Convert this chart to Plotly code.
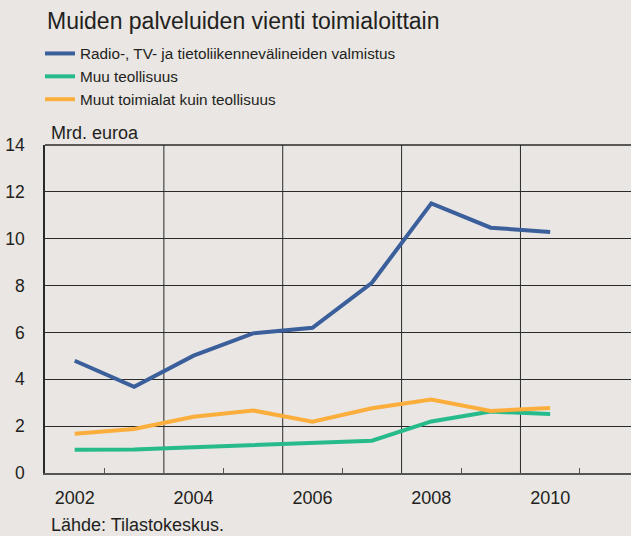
import plotly.graph_objects as go

years = [2002, 2003, 2004, 2005, 2006, 2007, 2008, 2009, 2010]
radio_tv = [4.79, 3.68, 5.01, 5.96, 6.2, 8.12, 11.51, 10.47, 10.29]
muu_teollisuus = [0.99, 1.0, 1.1, 1.18, 1.29, 1.38, 2.2, 2.62, 2.52]
muut_toimialat = [1.68, 1.88, 2.4, 2.67, 2.19, 2.76, 3.14, 2.65, 2.77]

series_names = [
    "Radio-, TV- ja tietoliikennevälineiden valmistus",
    "Muu teollisuus",
    "Muut toimialat kuin teollisuus",
]
colors = ["#3a5f9b", "#27bb8c", "#fbae3c"]

x_labels = ["2002", "2004", "2006", "2008", "2010"]
x_label_vals = [2002, 2004, 2006, 2008, 2010]
grid_x = [2003.5, 2005.5, 2007.5, 2009.5]
minor_x = [2002.5, 2004.5, 2006.5, 2008.5, 2010.5]

FONT = "Liberation Sans, Arial, sans-serif"
TXT = "#231f20"
BG = "#e9e6e3"
GRID = "#2a2a2a"

fig = go.Figure()
for name, vals, c in zip(series_names, [radio_tv, muu_teollisuus, muut_toimialat], colors):
    fig.add_trace(go.Scatter(x=years, y=vals, name=name, mode="lines",
                             line=dict(color=c, width=4)))

for gx in grid_x:
    fig.add_shape(type="line", xref="x", yref="paper", x0=gx, x1=gx, y0=0, y1=1,
                  line=dict(color=GRID, width=1), layer="below")

fig.update_layout(
    width=631, height=536,
    paper_bgcolor=BG, plot_bgcolor=BG,
    margin=dict(l=45, r=0, t=145, b=63, autoexpand=False),
    font=dict(family=FONT, color=TXT, size=18),
    title=dict(text="Muiden palveluiden vienti toimialoittain", x=0, xref="paper",
               xanchor="left", y=1 - 21 / 536, yref="container", yanchor="middle",
               font=dict(size=23, family=FONT, color=TXT), pad=dict(l=2)),
    showlegend=True,
    legend=dict(x=-0.0085, xref="paper", y=1 - 37 / 536, yref="container", yanchor="top",
                xanchor="left", bgcolor="rgba(0,0,0,0)", font=dict(size=15.3),
                tracegroupgap=0, traceorder="normal"),
    xaxis=dict(range=[2001.5, 2011.36], tickvals=x_label_vals, ticktext=x_labels,
               ticks="", showgrid=False, zeroline=False, automargin=False,
               showline=True, linecolor="#555555", linewidth=2, mirror=False,
               tickfont=dict(size=18), ticklabelstandoff=7,
               minor=dict(tickvals=minor_x, ticks="inside", ticklen=5,
                          tickcolor="#555555", tickwidth=1, showgrid=False)),
    yaxis=dict(range=[0, 14], dtick=2, tick0=0, showgrid=True, gridcolor=GRID,
               gridwidth=1, zeroline=False, showline=True, linecolor=GRID,
               linewidth=1.5, ticks="", tickfont=dict(size=17.5), automargin=False,
               ticklabelstandoff=15),
    annotations=[
        dict(text="Mrd. euroa", xref="paper", yref="paper", x=0.006, y=1.0,
             xanchor="left", yanchor="bottom", showarrow=False, yshift=0,
             font=dict(size=18, family=FONT, color=TXT)),
        dict(text="Lähde: Tilastokeskus.", xref="paper", yref="paper", x=0.006, y=0,
             xanchor="left", yanchor="middle", yshift=-52, showarrow=False,
             font=dict(size=18, family=FONT, color=TXT)),
    ],
)
fig.add_shape(type="line", xref="paper", yref="paper", x0=0, x1=1, y0=1, y1=1,
              line=dict(color=GRID, width=1.5))

fig.write_html(
    "out.html",
    config={"displayModeBar": False},
    post_script="document.body.style.margin='0';document.body.style.overflow='hidden';"
                f"document.body.style.background='{BG}';",
)
